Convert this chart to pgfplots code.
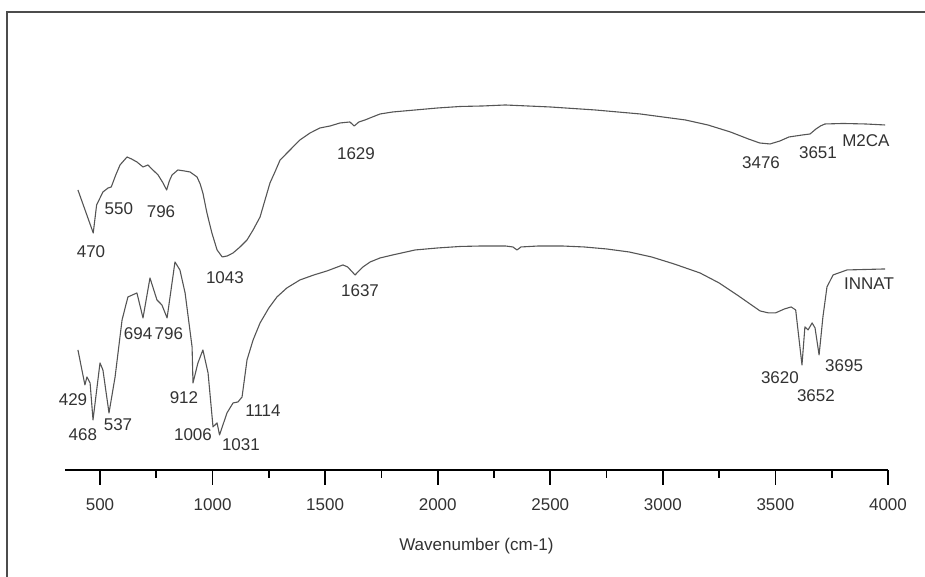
\documentclass[border=0pt]{standalone}
\usepackage{fontspec}
\setmainfont{Liberation Sans}
\usepackage{pgfplots}
\pgfplotsset{compat=1.18}

\definecolor{spec}{RGB}{85,85,85}
\definecolor{lbl}{RGB}{50,50,50}

\begin{document}
\begin{tikzpicture}
\begin{axis}[
    scale only axis,
    width=411.5pt, height=185pt,
    xmin=345, xmax=4000,
    ymin=107, ymax=477,
    clip=false,
    axis x line=bottom, axis y line=none,
    x axis line style={-, line width=1pt},
    xtick={500,1000,...,4000},
    minor x tick num=1,
    tick align=outside,
    major tick length=7.5pt, minor tick length=4pt,
    every tick/.style={black, line width=0.8pt},
    xticklabel style={anchor=center, yshift=-10pt, font=\fontsize{8.5}{10}\selectfont, text=lbl},
    /pgf/number format/assume math mode=true,
    /pgf/number format/set thousands separator={},
]

% M2CA
\addplot[spec, line width=0.55pt, line join=round] coordinates {
(402,387) (470,344) (485,372) (513,385) (536,389) (550,390) (570,402) (589,412) (620,420)
(640,418) (664,415) (691,410) (713,412) (735,407) (758,402) (780,394) (796,387) (808,396) (820,402) (846,407)
(875,406) (900,405) (931,400) (945,393) (957,384) (975,364) (997,344) (1020,327) (1043,320) (1065,321) (1091,324)
(1122,330) (1153,337) (1180,347) (1211,360) (1233,377) (1255,394) (1277,405) (1300,417) (1322,422)
(1344,427) (1366,432) (1388,437) (1433,444) (1477,449) (1522,451)
(1566,454) (1610,455) (1629,451) (1650,455) (1677,457) (1710,460) (1744,463) (1800,465)
(1900,467) (2000,469) (2100,470.5) (2200,471) (2300,472) (2400,471) (2500,470) (2600,468.5)
(2700,467) (2800,465) (2900,463) (3000,460) (3100,457) (3200,452) (3300,445) (3380,438)
(3430,434) (3476,433) (3520,436) (3560,440) (3620,442) (3654,443) (3680,448) (3700,451)
(3720,453) (3800,453.5) (3900,453) (3987,452)
};

% INNAT
\addplot[spec, line width=0.55pt, line join=round] coordinates {
(402,227) (433,192) (442,200) (456,194) (469,157) (500,214) (513,207)
(540,164) (567,200) (598,257) (624,280) (664,284) (691,259) (722,299)
(753,277) (775,272) (798,259) (833,315) (855,307) (878,284) (909,230)
(913,194) (935,214) (957,227) (980,204) (1002,150) (1020,154) (1031,142)
(1064,164) (1091,174) (1113,175) (1131,180) (1153,217) (1180,237) (1211,254)
(1250,269) (1286,280) (1330,289) (1388,297) (1450,302) (1508,306) (1579,312)
(1600,310) (1633,302) (1650,306) (1668,310) (1700,315) (1744,319) (1800,322)
(1900,327) (2000,329) (2100,330.5) (2200,331) (2300,331) (2334,330) (2352,327)
(2370,330) (2450,331) (2550,331) (2650,330) (2750,328) (2850,325) (2950,320)
(3050,313) (3165,304) (3250,294) (3330,282) (3400,271) (3432,266) (3470,264)
(3500,264) (3540,268) (3570,270) (3590,267) (3618,212) (3631,250) (3645,247)
(3663,254) (3676,249) (3694,222) (3711,260) (3729,290) (3756,302)
(3818,307) (3987,308)
};

\begin{scope}[every node/.style={font=\fontsize{8.5}{10}\selectfont, text=lbl, inner sep=0pt}]
\node at (axis cs:460,325) {470};
\node at (axis cs:584,368) {550};
\node at (axis cs:771,365) {796};
\node at (axis cs:1055,299) {1043};
\node at (axis cs:1637,423) {1629};
\node at (axis cs:3436,414) {3476};
\node at (axis cs:3689,424) {3651};
\node at (axis cs:3902,436) {M2CA};
\node at (axis cs:380,177) {429};
\node at (axis cs:424,142) {468};
\node at (axis cs:580,152) {537};
\node at (axis cs:669,243) {694};
\node at (axis cs:806,243) {796};
\node at (axis cs:873,179) {912};
\node at (axis cs:913,142) {1006};
\node at (axis cs:1126,132) {1031};
\node at (axis cs:1224,166) {1114};
\node at (axis cs:1655,286) {1637};
\node at (axis cs:3520,199) {3620};
\node at (axis cs:3680,181) {3652};
\node at (axis cs:3805,211) {3695};
\node at (axis cs:3916,293) {INNAT};
\node at (axis cs:2172,31) {Wavenumber (cm-1)};
\end{scope}

% frame
\draw[black!70, line width=1pt] (axis cs:87,0) -- (axis cs:87,565) -- (axis cs:4164.4,565);

\coordinate (bl) at (axis cs:55.83,0);
\coordinate (tr) at (axis cs:4164.4,577);
\end{axis}
\pgfresetboundingbox
\path (bl) rectangle (tr);
\end{tikzpicture}
\end{document}
